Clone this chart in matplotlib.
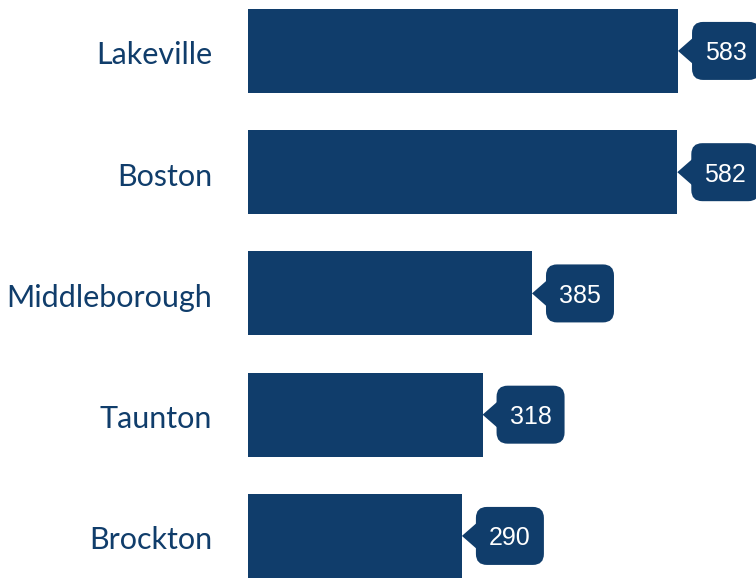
import matplotlib
matplotlib.use("Agg")
import matplotlib.pyplot as plt
from matplotlib.patches import FancyBboxPatch, Polygon
from matplotlib.transforms import IdentityTransform, ScaledTranslation

towns = ["Lakeville", "Boston", "Middleborough", "Taunton", "Brockton"]
counts = [583, 582, 385, 318, 290]

navy = "#103d6b"
W, H, DPI = 756, 578, 100

fig = plt.figure(figsize=(W / DPI, H / DPI), dpi=DPI)
ax = fig.add_axes([248 / W, 0, 1 - 248 / W, 1])

pos = list(range(len(towns)))
ax.barh(pos, counts, height=0.693, color=navy)
ax.set_xlim(0, 688.7)
ax.set_ylim(len(towns) - 1 + 0.347, -0.42)
ax.set_yticks(pos)
ax.set_yticklabels(towns, fontfamily="Lato", fontsize=22, color=navy)
ax.tick_params(axis="y", length=0, pad=26)
# nudge labels down a little, like the original
shift = ScaledTranslation(0, -2 / DPI, fig.dpi_scale_trans)
for lab in ax.get_yticklabels():
    lab.set_transform(lab.get_transform() + shift)
ax.set_xticks([])
for s in ax.spines.values():
    s.set_visible(False)

# callout boxes drawn in pixel space
fig.canvas.draw()
bw, bh, gap, half = 68, 58, 14, 14
for i, v in zip(pos, counts):
    px, py = ax.transData.transform((v, i))
    x0 = px + gap
    box = FancyBboxPatch((x0, py - bh / 2), bw, bh,
                         boxstyle="round,pad=0,rounding_size=11",
                         transform=IdentityTransform(), facecolor=navy,
                         edgecolor="none", clip_on=False)
    fig.patches.append(box)
    tri = Polygon([(px, py), (x0 + 2, py + half), (x0 + 2, py - half)],
                  closed=True, transform=IdentityTransform(),
                  facecolor=navy, edgecolor="none", clip_on=False)
    fig.patches.append(tri)
    fig.text((x0 + bw / 2) / W, py / H, str(v), color="white",
             fontfamily="Liberation Sans", fontsize=18,
             ha="center", va="center_baseline")

fig.savefig("out.png", dpi=DPI)
